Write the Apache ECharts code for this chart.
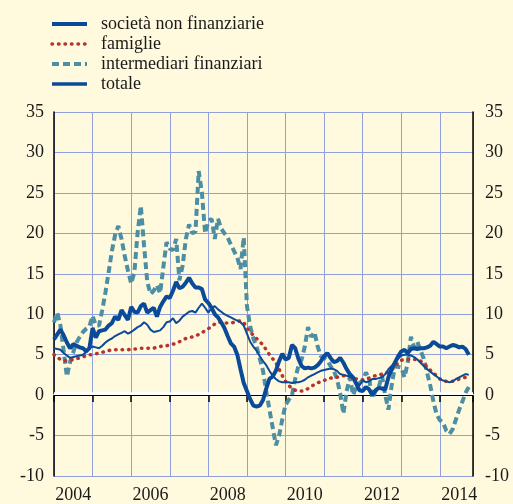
<!DOCTYPE html>
<html>
<head>
<meta charset="utf-8">
<script src="https://cdn.jsdelivr.net/npm/echarts@6/dist/echarts.min.js"></script>
<style>
  html, body { margin: 0; padding: 0; background: #FFF9DD; }
  #chart { width: 513px; height: 504px; }
</style>
</head>
<body>
<div id="chart"></div>
<script>
// monthly data, Jan 2004 .. Oct 2014 (percent change)
const startYear = 2004;
const seriesNames = ['società non finanziarie', 'famiglie', 'intermediari finanziari', 'totale'];
const yearLabels = ['2004', '2006', '2008', '2010', '2012', '2014'];

const societa = [
  6.9, 7.5, 8.1, 7.4, 6.5, 5.8, 6.3, 6.1, 5.9, 5.8, 5.4, 5.8,
  8.3, 7.1, 7.9, 8.0, 8.1, 8.6, 8.9, 9.7, 9.3, 10.5, 9.9, 9.3,
  10.9, 10.3, 10.2, 11.0, 11.3, 10.2, 10.5, 10.8, 9.7, 10.9, 11.6, 12.2,
  12.0, 12.9, 14.0, 13.2, 13.4, 13.9, 14.5, 13.8, 13.3, 13.3, 13.1, 11.8,
  11.4, 10.8, 10.0, 9.6, 9.0, 8.3, 7.3, 6.4, 6.0, 5.0, 3.2, 1.5,
  0.5, -0.5, -1.3, -1.4, -1.3, -0.6, 0.8, 2.0, 2.3, 3.0, 4.2, 5.1,
  4.4, 4.6, 6.2, 5.8, 4.5, 3.6, 3.3, 3.4, 3.3, 3.4, 3.7, 4.2,
  4.8, 5.2, 4.6, 4.1, 4.2, 4.6, 4.0, 3.2, 2.6, 2.2, 1.4, 0.6,
  0.5, 1.0, 0.7, 0.0, 0.6, 0.9, 0.8, 0.7, 2.2, 3.2, 4.0, 4.8,
  5.4, 5.6, 5.2, 5.7, 5.8, 5.7, 5.8, 5.8, 5.9, 6.1, 6.6, 6.3,
  6.0, 6.0, 5.8, 6.0, 6.2, 6.1, 5.9, 6.0, 5.7, 5.0
];

const famiglie = [
  5.0, 4.7, 4.4, 4.3, 4.2, 4.3, 4.4, 4.5, 4.6, 4.7, 4.9, 5.0,
  5.0, 5.1, 5.2, 5.3, 5.4, 5.5, 5.6, 5.6, 5.6, 5.6, 5.6, 5.6,
  5.7, 5.7, 5.7, 5.8, 5.8, 5.8, 5.8, 5.8, 5.9, 6.0, 6.1, 6.1,
  6.2, 6.3, 6.4, 6.6, 6.8, 7.0, 7.1, 7.2, 7.3, 7.5, 7.7, 8.0,
  8.2, 8.5, 8.8, 9.0, 9.0, 8.9, 8.9, 8.9, 9.0, 9.1, 9.2, 9.0,
  8.3, 7.8, 7.4, 7.0, 6.6, 6.2, 5.6, 5.0, 4.5, 4.0, 3.2, 2.4,
  1.7, 1.2, 0.8, 0.6, 0.5, 0.5, 0.6, 0.8, 1.1, 1.3, 1.5, 1.7,
  1.8, 2.0, 2.1, 2.2, 2.2, 2.3, 2.4, 2.3, 2.3, 2.2, 2.0, 1.9,
  1.9, 2.0, 2.1, 2.3, 2.4, 2.5, 2.6, 2.7, 2.8, 3.1, 3.5, 4.0,
  4.3, 4.4, 4.4, 4.4, 4.4, 4.4, 4.2, 3.9, 3.5, 3.1, 2.7, 2.4,
  2.0, 1.8, 1.7, 1.7, 1.7, 1.8, 2.0, 2.1, 2.2, 2.3
];

const intermediari = [
  9.0, 10.2, 8.6, 5.5, 2.3, 4.1, 5.3, 6.5, 7.2, 7.8, 8.2, 8.5,
  9.8, 8.6, 8.6, 10.5, 12.7, 15.2, 17.8, 19.8, 20.9, 19.3, 17.2, 15.4,
  13.8, 15.2, 20.1, 23.4, 18.5, 14.0, 12.5, 12.9, 13.6, 12.6, 15.8, 18.9,
  18.1, 17.9, 19.3, 14.2, 16.0, 19.3, 21.1, 20.0, 20.2, 27.7, 25.0, 20.0,
  21.5, 21.8, 19.3, 21.8, 20.6, 20.0, 19.5, 18.6, 17.8, 17.0, 15.6, 19.5,
  11.0, 8.5, 7.0, 6.0, 4.5, 3.0, 0.5, -1.8, -4.0, -6.2, -5.0, -3.0,
  -1.2, -0.6, 0.0, 2.0, 3.6, 4.4, 6.0, 8.4, 7.2, 7.8, 6.0, 4.8,
  4.6, 4.3, 3.6, 3.0, 2.0, 0.2, -2.3, 0.5, 2.2, 0.0, 1.0, 1.5,
  1.8, 2.8, 2.0, -0.4, 0.5, 1.0, 2.4, 0.0, -1.8, 1.2, 3.5, 3.5,
  3.4, 2.2, 4.0, 7.2, 5.9, 6.6, 5.5, 4.5, 2.8, 1.2, -0.8, -2.4,
  -3.1, -3.4, -4.4, -4.8, -4.2, -3.0, -1.8, -0.8, 0.3, 1.0
];

const totale = [
  5.8, 5.7, 5.6, 5.2, 4.9, 4.6, 4.7, 4.8, 4.9, 5.0, 5.3, 5.8,
  6.0, 5.9, 5.8, 6.1, 6.5, 6.8, 7.0, 7.3, 7.5, 7.7, 7.9, 7.6,
  7.8, 8.1, 8.4, 8.6, 9.0, 8.7, 8.1, 7.8, 7.9, 8.0, 8.4, 9.0,
  9.1, 9.5, 8.9, 9.2, 9.7, 10.0, 10.3, 10.4, 10.2, 10.8, 11.3, 10.8,
  10.2, 10.8, 11.0, 10.6, 10.3, 10.0, 9.8, 9.6, 9.4, 9.2, 9.0, 8.6,
  7.6, 6.6, 6.0, 5.5, 4.8, 4.2, 3.7, 3.0, 2.4, 2.0, 1.7, 1.6,
  1.6, 1.6, 1.5, 1.6, 1.6, 1.7, 1.9, 2.2, 2.4, 2.6, 2.8, 3.0,
  3.1, 3.2, 3.3, 3.2, 3.0, 2.6, 2.5, 2.4, 2.3, 2.0, 1.6, 1.2,
  1.8, 1.6, 1.7, 2.0, 2.0, 2.1, 2.2, 2.6, 3.2, 3.6, 4.0, 4.5,
  4.9, 5.0, 5.0, 4.9, 4.7, 4.4, 4.0, 3.6, 3.2, 2.9, 2.6, 2.3,
  2.0, 1.8, 1.7, 1.6, 1.7, 2.0, 2.2, 2.4, 2.6, 2.5
];

// month index -> decimal year
function toPairs(values) {
  return values.map((v, i) => [startYear + i / 12, v]);
}

const serif = 'Liberation Serif, Times New Roman, DejaVu Serif, serif';
const gridColor = '#8FA0DC';
const blue = '#0B4A98';
const xMax = startYear + 130.3 / 12;

const chart = echarts.init(document.getElementById('chart'));

chart.setOption({
  backgroundColor: '#FFF9DD',
  animation: false,
  legend: {
    orient: 'vertical',
    left: 50,
    top: 15,
    padding: 0,
    itemWidth: 35,
    itemHeight: 14,
    itemGap: 2,
    data: [
      seriesNames[0],
      seriesNames[1],
      seriesNames[2],
      { name: seriesNames[3], lineStyle: { width: 3.5 } }
    ],
    itemStyle: { color: 'transparent', borderWidth: 0, opacity: 0 },
    lineStyle: { width: 'inherit', type: 'inherit', cap: 'inherit' },
    textStyle: { fontFamily: serif, fontSize: 18, color: '#1a1a1a', padding: [0, 0, 0, 9] }
  },
  grid: { left: 54, right: 40, top: 112, bottom: 26 },
  xAxis: [{
    type: 'value',
    min: startYear,
    max: xMax,
    interval: 1,
    position: 'bottom',
    axisLine: { show: true, lineStyle: { color: '#ffffff', width: 2 } },
    axisTick: { show: true, length: 7, lineStyle: { color: '#000', width: 1.5 } },
    axisLabel: { show: false },
    splitLine: { show: true, lineStyle: { color: gridColor, width: 1 } }
  }, {
    type: 'value',
    min: startYear,
    max: xMax,
    interval: 0.5,
    position: 'bottom',
    axisLine: { show: false },
    axisTick: { show: false },
    splitLine: { show: false },
    axisLabel: {
      margin: 10,
      fontFamily: serif,
      fontSize: 18,
      color: '#1a1a1a',
      formatter: (v) => {
        const y = Math.floor(v);
        return (Math.abs(v - y - 0.5) < 1e-6 && yearLabels.includes(String(y))) ? String(y) : '';
      }
    }
  }],
  yAxis: [{
    type: 'value',
    position: 'left',
    min: -10,
    max: 35,
    interval: 5,
    axisLine: { show: true, lineStyle: { color: '#000', width: 1.5 } },
    axisTick: { show: false },
    axisLabel: { margin: 10, fontFamily: serif, fontSize: 18, color: '#1a1a1a' },
    splitLine: { show: true, lineStyle: { color: gridColor, width: 1 } }
  }, {
    type: 'value',
    position: 'right',
    min: -10,
    max: 35,
    interval: 5,
    axisLine: { show: true, lineStyle: { color: '#000', width: 1.5 } },
    axisTick: { show: false },
    axisLabel: { margin: 12, fontFamily: serif, fontSize: 18, color: '#1a1a1a' },
    splitLine: { show: false }
  }],
  series: [{
    name: seriesNames[0],
    type: 'line',
    symbol: 'none',
    z: 5,
    data: toPairs(societa),
    lineStyle: { color: blue, width: 4 },
    itemStyle: { color: blue },
    markLine: {
      silent: true,
      symbol: 'none',
      label: { show: false },
      z: 1,
      data: [
        { yAxis: 0.25, lineStyle: { color: '#ffffff', width: 2.5, type: 'solid' } },
        { yAxis: 0, lineStyle: { color: '#000', width: 1, type: 'solid' } }
      ]
    }
  }, {
    name: seriesNames[1],
    type: 'line',
    symbol: 'none',
    z: 4,
    data: toPairs(famiglie),
    lineStyle: { color: '#B5352E', width: 3.5, type: [0.5, 6], cap: 'round' },
    itemStyle: { color: '#B5352E' }
  }, {
    name: seriesNames[2],
    type: 'line',
    symbol: 'none',
    z: 3,
    data: toPairs(intermediari),
    lineStyle: { color: '#4C8EA4', width: 4, type: [7, 4] },
    itemStyle: { color: '#4C8EA4' }
  }, {
    name: seriesNames[3],
    type: 'line',
    symbol: 'none',
    z: 4,
    data: toPairs(totale),
    lineStyle: { color: blue, width: 2 },
    itemStyle: { color: blue }
  }]
});
</script>
</body>
</html>
